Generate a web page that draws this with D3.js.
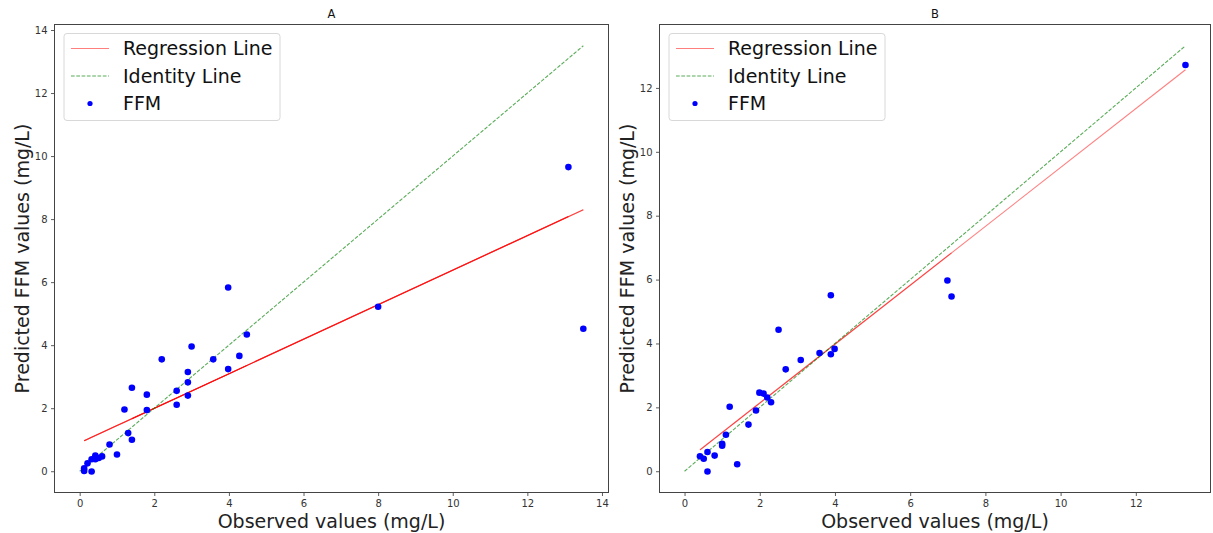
<!DOCTYPE html>
<html>
<head>
<meta charset="utf-8">
<script src="https://cdn.jsdelivr.net/npm/d3@7/dist/d3.min.js"></script>
<style>
  html, body { margin: 0; padding: 0; background: #fff; }
  svg { display: block; font-family: "DejaVu Sans", sans-serif; }
</style>
</head>
<body>
<svg id="chart" width="1213" height="533"></svg>
<script>
// ---------- DATA ----------
const panelTitles = ["A", "B"];
const xLabel = "Observed values (mg/L)";
const yLabel = "Predicted FFM values (mg/L)";
const legendLabels = ["Regression Line", "Identity Line", "FFM"];

// Panel A: observed / predicted (data order)
const obsA  = [0.12, 0.21, 0.32, 0.42, 0.42, 0.51, 0.6, 0.8, 1.0, 1.2, 1.3, 13.5, 1.4, 1.4, 1.8, 8.0, 13.1, 0.12, 0.32, 1.8, 2.2, 2.6, 2.6, 2.9, 2.9, 2.9, 3.0, 3.58, 3.98, 3.98, 4.28, 4.48];
const predA = [0.09, 0.25, 0.38, 0.50, 0.38, 0.42, 0.47, 0.85, 0.53, 1.96, 1.21, 4.52, 2.65, 1.0, 2.43, 5.22, 9.65, 0.01, -0.01, 1.94, 3.55, 2.55, 2.11, 3.15, 2.82, 2.40, 3.96, 3.55, 5.83, 3.24, 3.66, 4.34];
const regA = { intercept: 0.9, slope: 0.548 };

// Panel B: observed / predicted (data order)
const obsB  = [7.1, 0.41, 0.51, 0.61, 0.61, 0.8, 1.0, 1.0, 1.1, 1.2, 1.4, 1.7, 1.9, 1.99, 2.1, 2.2, 2.3, 2.5, 2.69, 3.09, 3.59, 3.89, 3.89, 3.99, 6.99, 13.32];
const predB = [5.47, 0.47, 0.39, 0.60, -0.01, 0.49, 0.86, 0.80, 1.14, 2.02, 0.22, 1.46, 1.90, 2.46, 2.43, 2.31, 2.16, 4.43, 3.19, 3.48, 3.70, 5.51, 3.66, 3.83, 5.97, 12.72];
const regB = { intercept: 0.29, slope: 0.922 };

const xTicksA = [0, 2, 4, 6, 8, 10, 12, 14];
const yTicksA = [0, 2, 4, 6, 8, 10, 12, 14];
const xTicksB = [0, 2, 4, 6, 8, 10, 12];
const yTicksB = [0, 2, 4, 6, 8, 10, 12];

// ---------- LAYOUT ----------
const panels = [
  { title: panelTitles[0], obs: obsA, pred: predA, reg: regA, xt: xTicksA, yt: yTicksA,
    box: { l: 54.5, r: 608.5, t: 24.5, b: 492.5 }, xdom: [-0.675, 14.175], ydom: [-0.675, 14.175] },
  { title: panelTitles[1], obs: obsB, pred: predB, reg: regB, xt: xTicksB, yt: yTicksB,
    box: { l: 659.5, r: 1210.5, t: 24.5, b: 492.5 }, xdom: [-0.666, 13.986], ydom: [-0.666, 13.986] }
];

const svg = d3.select("#chart");
const RED = "#ff0000", GREEN = "#008000", BLUE = "#0000ff";

panels.forEach(p => {
  const x = d3.scaleLinear().domain(p.xdom).range([p.box.l, p.box.r]);
  const y = d3.scaleLinear().domain(p.ydom).range([p.box.b, p.box.t]);
  const g = svg.append("g");

  const cid = "clip" + p.title;
  svg.append("clipPath").attr("id", cid).append("rect")
    .attr("x", p.box.l).attr("y", p.box.t).attr("width", p.box.r - p.box.l).attr("height", p.box.b - p.box.t);
  const plot = g.append("g").attr("clip-path", `url(#${cid})`);

  // regression line: segments between consecutive data points (alpha accumulates on overlap)
  const regY = v => p.reg.intercept + p.reg.slope * v;
  for (let i = 0; i < p.obs.length - 1; i++) {
    plot.append("line")
      .attr("x1", x(p.obs[i])).attr("y1", y(regY(p.obs[i])))
      .attr("x2", x(p.obs[i + 1])).attr("y2", y(regY(p.obs[i + 1])))
      .attr("stroke", RED).attr("stroke-opacity", 0.5).attr("stroke-width", 1.1);
  }

  // identity line
  const xmax = d3.max(p.obs);
  plot.append("line")
    .attr("x1", x(0)).attr("y1", y(0)).attr("x2", x(xmax)).attr("y2", y(xmax))
    .attr("stroke", GREEN).attr("stroke-opacity", 0.65).attr("stroke-width", 1.1)
    .attr("stroke-dasharray", "3.7,1.6");

  // points
  plot.selectAll("circle.pt").data(p.obs.map((o, i) => [o, p.pred[i]])).enter()
    .append("circle").attr("class", "pt")
    .attr("cx", d => x(d[0])).attr("cy", d => y(d[1])).attr("r", 3.3)
    .attr("fill", BLUE);

  // axes
  const xAxis = d3.axisBottom(x).tickValues(p.xt).tickSize(3.5).tickPadding(3.5).tickFormat(d3.format("d"));
  const yAxis = d3.axisLeft(y).tickValues(p.yt).tickSize(3.5).tickPadding(3.5).tickFormat(d3.format("d"));
  const gx = g.append("g").attr("transform", `translate(0,${p.box.b})`).call(xAxis);
  const gy = g.append("g").attr("transform", `translate(${p.box.l},0)`).call(yAxis);
  [gx, gy].forEach(a => {
    a.select(".domain").remove();
    a.selectAll(".tick line").attr("stroke", "#333").attr("stroke-width", 0.8);
    a.selectAll(".tick text").attr("fill", "#333").style("font-size", "10px").style("font-family", "DejaVu Sans");
  });

  // frame
  g.append("rect").attr("x", p.box.l).attr("y", p.box.t)
    .attr("width", p.box.r - p.box.l).attr("height", p.box.b - p.box.t)
    .attr("fill", "none").attr("stroke", "#444").attr("stroke-width", 1);

  const cx = (p.box.l + p.box.r) / 2, cy = (p.box.t + p.box.b) / 2;
  g.append("text").attr("x", cx).attr("y", 18).attr("text-anchor", "middle")
    .style("font-size", "11.5px").attr("fill", "#111").text(p.title);
  g.append("text").attr("x", cx).attr("y", 528).attr("text-anchor", "middle")
    .style("font-size", "19px").attr("fill", "#222").text(xLabel);
  g.append("text").attr("transform", `translate(${p.box.l - 26},${cy}) rotate(-90)`)
    .attr("text-anchor", "middle").style("font-size", "19px").attr("fill", "#222").text(yLabel);

  // legend
  const lx = p.box.l + 9.5, ly = p.box.t + 9;
  const lg = g.append("g");
  lg.append("rect").attr("x", lx).attr("y", ly).attr("width", 216).attr("height", 87)
    .attr("rx", 3).attr("fill", "#fff").attr("fill-opacity", 0.8)
    .attr("stroke", "#d8d8d8").attr("stroke-width", 1);
  const rows = [ly + 15, ly + 42.5, ly + 70];
  lg.append("line").attr("x1", lx + 7).attr("x2", lx + 45).attr("y1", rows[0]).attr("y2", rows[0])
    .attr("stroke", RED).attr("stroke-opacity", 0.5).attr("stroke-width", 1);
  lg.append("line").attr("x1", lx + 7).attr("x2", lx + 45).attr("y1", rows[1]).attr("y2", rows[1])
    .attr("stroke", GREEN).attr("stroke-opacity", 0.65).attr("stroke-width", 1.1).attr("stroke-dasharray", "3.7,1.6");
  lg.append("circle").attr("cx", lx + 26).attr("cy", rows[2]).attr("r", 2.6).attr("fill", BLUE);
  legendLabels.forEach((t, i) => {
    lg.append("text").attr("x", lx + 59).attr("y", rows[i]).attr("dy", "0.36em")
      .style("font-size", "19px").attr("fill", "#111").text(t);
  });
});
</script>
</body>
</html>
